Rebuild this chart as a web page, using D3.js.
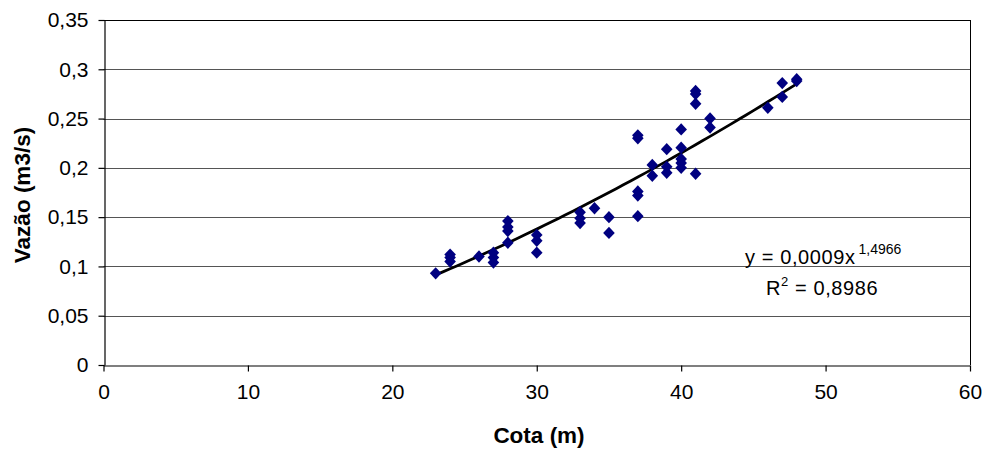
<!DOCTYPE html>
<html>
<head>
<meta charset="utf-8">
<script src="https://cdn.jsdelivr.net/npm/d3@7"></script>
<style>
  body { margin: 0; background: #fff; }
  svg { display: block; }
  text { font-family: "Liberation Sans", Arial, sans-serif; fill: #000; }
</style>
</head>
<body>
<svg id="chart" width="988" height="450"></svg>
<script>
// Data: Cota (m) vs Vazão (m3/s)
const cota = [23,
  24, 24, 24,
  26,
  27, 27, 27,
  28, 28, 28, 28,
  30, 30, 30,
  33, 33, 33,
  34,
  35, 35,
  37, 37, 37, 37, 37,
  38, 38,
  39, 39, 39,
  40, 40, 40, 40, 40,
  41, 41, 41, 41,
  42, 42,
  46,
  47, 47,
  48, 48];
const vazao = [0.093,
  0.112, 0.109, 0.105,
  0.110,
  0.114, 0.109, 0.104,
  0.146, 0.140, 0.136, 0.124,
  0.132, 0.126, 0.114,
  0.155, 0.149, 0.144,
  0.159,
  0.150, 0.134,
  0.233, 0.230, 0.176, 0.172, 0.151,
  0.203, 0.192,
  0.219, 0.201, 0.195,
  0.239, 0.2205, 0.209, 0.205, 0.200,
  0.278, 0.275, 0.265, 0.194,
  0.250, 0.241,
  0.261,
  0.286, 0.272,
  0.290, 0.288];
const xTicks = [0, 10, 20, 30, 40, 50, 60];
const yTicks = [0, 0.05, 0.1, 0.15, 0.2, 0.25, 0.3, 0.35];
const eqText = "y = 0,0009x";
const eqExp = "1,4966";
const r2Text = "0,8986";

const svg = d3.select("#chart");
const m = { left: 103.5, right: 970, top: 20, bottom: 365 };

const x = d3.scaleLinear().domain([0, 60]).range([m.left, m.right]);
const y = d3.scaleLinear().domain([0, 0.35]).range([m.bottom, m.top]);
const fmt = d => String(d).replace(".", ",");

// horizontal gridlines
svg.append("g").selectAll("line").data(yTicks.filter(d => d > 0 && d < 0.35)).join("line")
  .attr("x1", m.left).attr("x2", m.right)
  .attr("y1", d => Math.round(y(d)) + 0.5).attr("y2", d => Math.round(y(d)) + 0.5)
  .attr("stroke", "#555").attr("stroke-width", 1);

// frame (top and right)
svg.append("line").attr("x1", m.left).attr("x2", m.right + 0.5)
  .attr("y1", Math.round(m.top) + 0.5).attr("y2", Math.round(m.top) + 0.5)
  .attr("stroke", "#000").attr("stroke-width", 1);
svg.append("line").attr("x1", Math.round(m.right) + 0.5).attr("x2", Math.round(m.right) + 0.5)
  .attr("y1", m.top).attr("y2", m.bottom)
  .attr("stroke", "#000").attr("stroke-width", 1);

// y axis
const yAxis = svg.append("g").attr("transform", `translate(${Math.round(m.left) + 0.5},0)`)
  .call(d3.axisLeft(y).tickValues(yTicks).tickFormat(fmt).tickSize(6).tickPadding(10).tickSizeOuter(0));
yAxis.selectAll("path, line").attr("stroke", "#000").attr("stroke-width", 1.2);
yAxis.selectAll("text").attr("font-size", "21px").attr("font-family", "Liberation Sans, Arial, sans-serif").attr("fill", "#000");

// x axis
const xAxis = svg.append("g").attr("transform", `translate(0,${Math.round(m.bottom) + 0.5})`)
  .call(d3.axisBottom(x).tickValues(xTicks).tickFormat(fmt).tickSize(6).tickPadding(13).tickSizeOuter(0));
xAxis.selectAll("path, line").attr("stroke", "#000").attr("stroke-width", 1.2);
xAxis.selectAll("text").attr("font-size", "21px").attr("font-family", "Liberation Sans, Arial, sans-serif").attr("fill", "#000");

// axis titles
svg.append("text").attr("x", 539).attr("y", 443).attr("text-anchor", "middle")
  .attr("font-size", "22.5px").attr("font-weight", "bold").text("Cota (m)");
svg.append("text").attr("transform", "translate(30,195) rotate(-90)").attr("text-anchor", "middle")
  .attr("font-size", "22.5px").attr("font-weight", "bold").text("Vazão (m3/s)");

// power trendline fitted (least squares in log space) from the data
const lx = cota.map(Math.log), ly = vazao.map(Math.log);
const mx = d3.mean(lx), my = d3.mean(ly);
const b = d3.sum(lx.map((v, i) => (v - mx) * (ly[i] - my))) / d3.sum(lx.map(v => (v - mx) ** 2));
const a = Math.exp(my - b * mx);
const xmin = d3.min(cota), xmax = d3.max(cota);
const trend = d3.range(0, 51).map(i => xmin + (xmax - xmin) * i / 50);
svg.append("path").datum(trend)
  .attr("d", d3.line().x(d => x(d)).y(d => y(a * Math.pow(d, b))))
  .attr("fill", "none").attr("stroke", "#000").attr("stroke-width", 2.8);

// points (Excel-style diamonds, nearly square)
const wideDiamond = {
  draw(ctx, size) {
    const hw = 5.8, hh = 6.2;
    ctx.moveTo(0, -hh); ctx.lineTo(hw, 0); ctx.lineTo(0, hh); ctx.lineTo(-hw, 0); ctx.closePath();
  }
};
svg.append("g").selectAll("path").data(cota.map((c, i) => [c, vazao[i]])).join("path")
  .attr("transform", d => `translate(${x(d[0])},${y(d[1])})`)
  .attr("d", d3.symbol().type(wideDiamond))
  .attr("fill", "#000080");

// equation labels
const eq = svg.append("text").attr("x", 745).attr("y", 264).attr("font-size", "20px");
eq.append("tspan").text(eqText).attr("letter-spacing", "0.6px");
eq.append("tspan").attr("dx", 3).attr("dy", -10).attr("font-size", "14px").text(eqExp);

const r2 = svg.append("text").attr("x", 766).attr("y", 295).attr("font-size", "20px").attr("letter-spacing", "0.6px");
r2.append("tspan").text("R");
r2.append("tspan").attr("dy", -9).attr("font-size", "13px").text("2");
r2.append("tspan").attr("dy", 9).text(" = " + r2Text);
</script>
</body>
</html>
